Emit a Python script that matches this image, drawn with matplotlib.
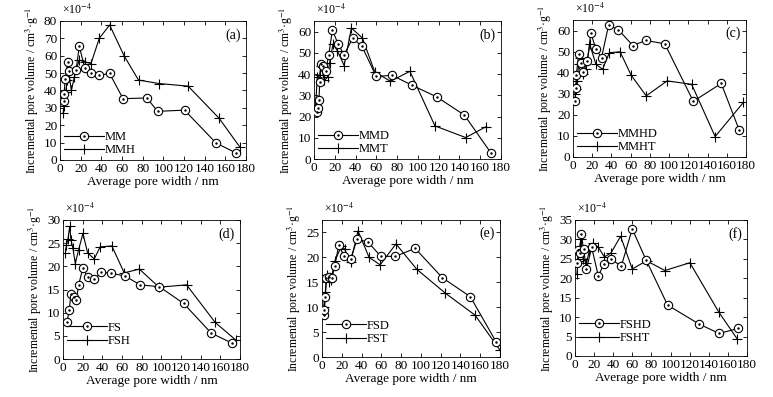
import matplotlib
matplotlib.use("Agg")
import matplotlib.pyplot as plt

plt.rcParams["font.family"] = ["Liberation Serif", "DejaVu Serif"]
plt.rcParams["mathtext.fontset"] = "stix"
plt.rcParams["xtick.direction"] = "in"
plt.rcParams["ytick.direction"] = "in"
plt.rcParams["xtick.top"] = True
plt.rcParams["ytick.right"] = True

# ---------------------------------------------------------------------------
# Data (values in units of 1e-4 cm3/g)
# ---------------------------------------------------------------------------
mm_x = [4, 4, 5, 7.5, 8.5, 15.5, 18.7, 24, 30, 38, 48, 61, 84, 94.5, 120.5, 151, 170.5]
mm_y = [34, 38, 46.5, 56.6, 51.3, 51.7, 65.4, 52.7, 49.8, 48.8, 49.8, 35.3, 35.7, 28, 28.7, 9.8, 4]
mmh_x = [3, 4, 5.5, 7, 9, 11, 14, 18.5, 24, 30, 38, 48, 62, 76, 96, 124, 154, 174]
mmh_y = [27, 31, 39, 46, 48, 40, 48, 57.5, 56.5, 55.5, 70, 77.7, 60, 46, 44, 42.5, 24, 7.5]

mmd_x = [2.6, 3.9, 4.8, 5.5, 6.4, 8.7, 11.3, 14.1, 17.7, 23.2, 28.9, 37.3, 46.3, 59.8, 75.2, 94.5, 118, 144.7, 170.4]
mmd_y = [22.3, 24.1, 27.7, 36.3, 44.9, 43.8, 41.4, 48.8, 60.7, 54.2, 49.1, 56.9, 53, 38.9, 39.4, 34.7, 29.3, 20.7, 2.8]
mmt_x = [1.6, 3.2, 5.5, 7, 10, 13, 15, 18.3, 22.5, 29, 36, 46.6, 58.5, 73.6, 92.3, 116.4, 146, 166]
mmt_y = [25.4, 38.6, 39.4, 43.6, 37, 38.6, 45.2, 54.2, 51, 44, 61.7, 57, 41, 36.6, 41.3, 15.6, 10.1, 15.3]

mmhd_x = [2.1, 2.8, 3.5, 5.9, 8, 10.5, 15, 18.5, 23.8, 29.7, 37, 47.2, 62.2, 75.9, 95.5, 125.2, 154.2, 173.1]
mmhd_y = [26.7, 32.7, 38.9, 49, 44.7, 40.3, 45.5, 58.9, 51.3, 47.1, 62.5, 60.4, 52.9, 55.3, 53.7, 26.4, 34.9, 12.6]
mmht_x = [2, 3.1, 4.2, 5.9, 7.7, 10.5, 13.3, 17.5, 23.8, 30.8, 37.8, 49, 60.5, 76.2, 97.9, 123.4, 147.9, 177.3]
mmht_y = [29.8, 32.2, 36.1, 44, 47, 39.6, 41.6, 53.4, 44, 41.6, 49.5, 49.9, 38.8, 29, 36.1, 34.5, 9.7, 25.9]

fs_x = [4, 6.4, 8.1, 11.5, 13.5, 15.9, 20.3, 25, 31.8, 38.9, 49.3, 63.2, 78.4, 98, 122.6, 150.7, 172]
fs_y = [7.9, 10.6, 14.1, 13.4, 12.7, 16, 19.7, 17.7, 17.2, 18.7, 18.5, 17.9, 16, 15.6, 12, 5.6, 3.4]
fsh_x = [2.4, 3.4, 5, 6.8, 8.1, 10.1, 12.5, 15.9, 20.3, 25, 31.8, 37.8, 49.7, 62.2, 77.7, 97.6, 125.7, 154.7, 175.7]
fsh_y = [22.8, 24.6, 25.8, 28.6, 25.7, 23.9, 20.6, 23.6, 27.1, 22.9, 21.6, 24.2, 24.4, 18.6, 19.4, 15.5, 16, 7.9, 4.1]

fsd_x = [1.7, 2.4, 3.4, 4.4, 6.8, 10.2, 12.9, 17, 22.1, 28.9, 35.7, 46.9, 59.5, 74.1, 94.2, 121.8, 150, 176.2]
fsd_y = [8.4, 9.5, 12.1, 15.8, 16, 15.9, 18.3, 22.5, 20.3, 19.7, 23.7, 23, 20.2, 20.2, 21.8, 15.9, 12.1, 3]
fst_x = [1.7, 3.4, 4.8, 6.8, 9.2, 12.9, 19.4, 22.8, 28.9, 36.4, 47.6, 58.8, 74.8, 95.9, 124.8, 154.8, 179.6]
fst_y = [10.1, 13.1, 16.5, 15.1, 15.5, 19.2, 22.2, 21.7, 19, 25.3, 20, 18.5, 22.7, 17.6, 12.8, 8.4, 1.5]

fshd_x = [2.5, 3.5, 5, 6.5, 9, 12, 17.4, 24.4, 30.3, 37.6, 48.4, 59.9, 74.2, 96.9, 130, 150.9, 170.7]
fshd_y = [24, 27.2, 26.5, 31.4, 27.5, 22.3, 28, 20.6, 23.7, 25, 23.1, 32.7, 24.8, 13.1, 8.2, 5.8, 7.1]
fsht_x = [2, 3, 6, 8.5, 12, 15, 19.2, 24.4, 30.7, 37.6, 47.7, 59.9, 74.9, 94.1, 120.2, 150.5, 169.7]
fsht_y = [21, 24.5, 30, 25, 24, 27, 29, 28, 25.5, 26.5, 30.8, 22.4, 24.5, 22, 24, 11.3, 4.4]

panels = [
    ("(a)", ("MM", mm_x, mm_y), ("MMH", mmh_x, mmh_y), 80, range(0, 81, 10)),
    ("(b)", ("MMD", mmd_x, mmd_y), ("MMT", mmt_x, mmt_y), 65, range(0, 61, 10)),
    ("(c)", ("MMHD", mmhd_x, mmhd_y), ("MMHT", mmht_x, mmht_y), 65, range(0, 61, 10)),
    ("(d)", ("FS", fs_x, fs_y), ("FSH", fsh_x, fsh_y), 30, range(0, 31, 5)),
    ("(e)", ("FSD", fsd_x, fsd_y), ("FST", fst_x, fst_y), 27.5, range(0, 26, 5)),
    ("(f)", ("FSHD", fshd_x, fshd_y), ("FSHT", fsht_x, fsht_y), 35, range(0, 36, 5)),
]

# axes boxes in pixels: left, right, top, bottom
W, H = 773, 397
boxes = [
    (60, 246, 21, 160), (314, 501, 21, 159), (573, 746, 20, 157),
    (63, 240, 220, 359), (322, 500, 220, 357), (575, 747, 220, 356),
]

fig = plt.figure(figsize=(W / 100, H / 100), dpi=100)

for i, (tag, s1, s2, ytop, yticks) in enumerate(panels):
    l, r, t, b = boxes[i]
    ax = fig.add_axes([l / W, (H - b) / H, (r - l) / W, (b - t) / H])

    name1, x1, y1 = s1
    name2, x2, y2 = s2
    line1, = ax.plot(x1, y1, "-", color="black", lw=0.8, marker="o", ms=6,
                     mfc="white", mec="black", mew=0.8, zorder=3)
    dots, = ax.plot(x1, y1, ls="none", marker=".", ms=1.5, color="black", zorder=4)
    line2, = ax.plot(x2, y2, "-", color="black", lw=0.8, marker="+", ms=7.5,
                     mew=0.8, zorder=2)

    ax.set_xlim(0, 180)
    ax.set_ylim(0, ytop)
    ax.set_xticks(range(0, 181, 20))
    ax.set_yticks(list(yticks))
    ax.tick_params(labelsize=9.5, length=3, width=0.6, pad=2)
    for sp in ax.spines.values():
        sp.set_linewidth(0.6)

    ax.set_xlabel("Average pore width / nm", fontsize=9.5, labelpad=1)
    ax.set_ylabel("Incremental pore volume / cm$^3$·g$^{-1}$", fontsize=8.5, labelpad=2)
    ax.text(0.01, 1.03, r"×10$^{-4}$", transform=ax.transAxes, fontsize=8.5,
            ha="left", va="bottom")
    ax.text(0.97, 0.9, tag, transform=ax.transAxes, fontsize=10, ha="right", va="center")

    anchor_y = 0.0 if i < 3 else 0.06
    ax.legend([(line1, dots), line2], [name1, name2], loc="lower left",
              bbox_to_anchor=(0.0, anchor_y), frameon=False, fontsize=9,
              handlelength=3.2, handletextpad=0.1, borderaxespad=0.1,
              labelspacing=0.1, borderpad=0.2)

fig.savefig("out.png", dpi=100)
